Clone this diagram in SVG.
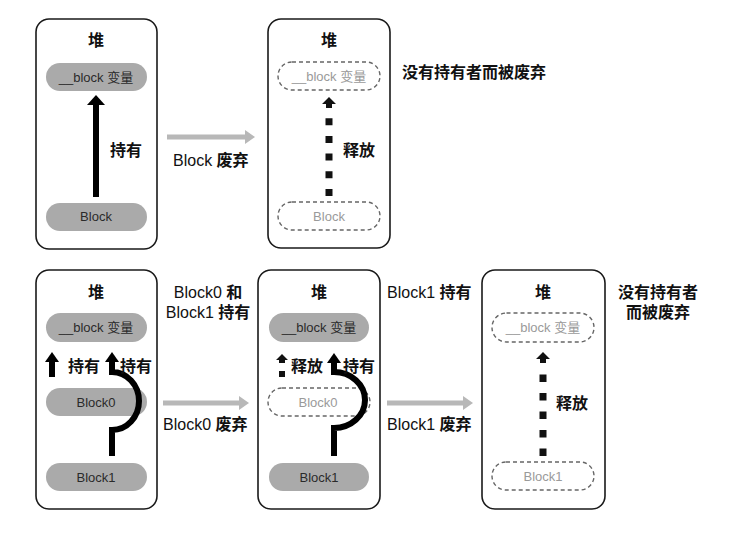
<svg xmlns="http://www.w3.org/2000/svg" width="742" height="538" viewBox="0 0 742 538">
<style>
text{font-family:"Liberation Sans","Noto Sans CJK SC",sans-serif;fill:#111;}
.lbl{font-size:16px;font-weight:bold;}
.lbln{font-size:16px;}
.cj{font-weight:bold;}
.ttl{font-size:16px;font-weight:bold;text-anchor:middle;}
.box{fill:#fff;stroke:#1a1a1a;stroke-width:1.6;}
.pill{fill:#aaaaaa;stroke:none;}
.pt{font-size:13px;fill:#2a2a2a;text-anchor:middle;}
.dpill{fill:#fff;stroke:#666;stroke-width:1.4;stroke-dasharray:4 3;}
.dpt{font-size:13px;fill:#9a9a9a;text-anchor:middle;}
.solid{fill:none;stroke:#000;stroke-width:6;}
.dot{fill:none;stroke:#111;stroke-width:7;}
.gray{fill:none;stroke:#b8b8b8;stroke-width:5;}
</style>
<defs>
<marker id="hbig" markerUnits="userSpaceOnUse" markerWidth="10" markerHeight="18" refX="2" refY="9" orient="auto" viewBox="0 0 10 18"><path d="M0,0 L10,9 L0,18 Z" fill="#000"/></marker>
<marker id="hsm" markerUnits="userSpaceOnUse" markerWidth="10" markerHeight="14" refX="2" refY="7" orient="auto" viewBox="0 0 10 14"><path d="M0,0 L10,7 L0,14 Z" fill="#000"/></marker>
<marker id="hgray" markerUnits="userSpaceOnUse" markerWidth="10" markerHeight="14" refX="1" refY="7" orient="auto" viewBox="0 0 10 14"><path d="M0,0 L10,7 L0,14 Z" fill="#b8b8b8"/></marker>
</defs>

<!-- Panel 1 -->
<g id="panel1">
<rect class="box" x="36" y="19" width="121" height="230" rx="13"/>
<text class="ttl" x="96" y="46">堆</text>
</g>
<g id="p1-var"><rect class="pill" x="46" y="63" width="101" height="28" rx="14"/><text class="pt" x="96" y="82">__block 变量</text></g>
<g id="p1-block"><rect class="pill" x="46" y="203" width="101" height="28" rx="14"/><text class="pt" x="96" y="221">Block</text></g>

<!-- Panel 2 -->
<g id="panel2">
<rect class="box" x="268" y="19" width="122" height="229" rx="13"/>
<text class="ttl" x="329" y="46">堆</text>
</g>
<g id="p2-var"><rect class="dpill" x="278" y="62" width="102" height="28" rx="14"/><text class="dpt" x="329" y="81">__block 变量</text></g>
<g id="p2-block"><rect class="dpill" x="278" y="202" width="102" height="28" rx="14"/><text class="dpt" x="329" y="221">Block</text></g>

<!-- Panel 3 -->
<g id="panel3">
<rect class="box" x="36" y="270" width="121" height="239" rx="13"/>
<text class="ttl" x="96" y="298">堆</text>
</g>
<g id="p3-var"><rect class="pill" x="46" y="313" width="101" height="29" rx="14.5"/><text class="pt" x="96" y="332">__block 变量</text></g>
<g id="p3-block0"><rect class="pill" x="46" y="388" width="101" height="28" rx="14"/><text class="pt" x="96" y="407">Block0</text></g>
<g id="p3-block1"><rect class="pill" x="46" y="463" width="101" height="28" rx="14"/><text class="pt" x="96" y="482">Block1</text></g>

<!-- Panel 4 -->
<g id="panel4">
<rect class="box" x="258" y="270" width="122" height="239" rx="13"/>
<text class="ttl" x="319" y="298">堆</text>
</g>
<g id="p4-var"><rect class="pill" x="269" y="313" width="100" height="29" rx="14.5"/><text class="pt" x="319" y="332">__block 变量</text></g>
<g id="p4-block0"><rect class="dpill" x="268" y="388" width="102" height="28" rx="14"/><text class="dpt" x="318" y="407">Block0</text></g>
<g id="p4-block1"><rect class="pill" x="269" y="463" width="100" height="28" rx="14"/><text class="pt" x="319" y="482">Block1</text></g>

<!-- Panel 5 -->
<g id="panel5">
<rect class="box" x="482" y="270" width="123" height="239" rx="13"/>
<text class="ttl" x="543" y="298">堆</text>
</g>
<g id="p5-var"><rect class="dpill" x="492" y="313" width="102" height="29" rx="14.5"/><text class="dpt" x="543" y="332">__block 变量</text></g>
<g id="p5-block1"><rect class="dpill" x="492" y="462" width="102" height="28" rx="14"/><text class="dpt" x="543" y="481">Block1</text></g>

<!-- Connectors -->
<g id="connectors">
<!-- panel 1 -->
<path class="solid" d="M96,197 V103" marker-end="url(#hbig)"/>
<!-- panel 2 dotted -->
<path class="dot" d="M329,196 V116" stroke-dasharray="7 10.7"/>
<path d="M329,97 L336,104 L332,104 L332,108 L326,108 L326,104 L322,104 Z" fill="#111"/>
<!-- panel 3 -->
<path class="solid" d="M52,377 V360" marker-end="url(#hsm)"/>
<path class="solid" d="M112,456 V430 A27,29 0 0 0 112,372 V360" marker-end="url(#hsm)"/>
<!-- panel 4 -->
<path d="M282,354 L288,360 L285,360 L285,363 L279,363 L279,360 L276,360 Z" fill="#111"/>
<rect x="279" y="371" width="6" height="6" fill="#111"/>
<path class="solid" d="M334,456 V428 A31,28 0 0 0 334,372 V361" marker-end="url(#hsm)"/>
<!-- panel 5 dotted -->
<path class="dot" d="M543,456 V372" stroke-dasharray="7.5 11"/>
<path d="M543,352 L550,359 L546,359 L546,363 L540,363 L540,359 L536,359 Z" fill="#111"/>
<!-- transitions -->
<path class="gray" d="M167,137 H246" marker-end="url(#hgray)"/>
<path class="gray" d="M163,403 H240" marker-end="url(#hgray)"/>
<path class="gray" d="M387,403 H464" marker-end="url(#hgray)"/>
</g>

<!-- Labels -->
<g id="labels">
<text class="lbl" x="110" y="156">持有</text>
<text class="lbln" x="173" y="166">Block <tspan class="cj">废弃</tspan></text>
<text class="lbl" x="343" y="156">释放</text>
<text class="lbl" x="402" y="78">没有持有者而被废弃</text>
<text class="lbl" x="68" y="372">持有</text>
<text class="lbl" x="120" y="372">持有</text>
<text class="lbln" x="208" y="298" text-anchor="middle">Block0 <tspan class="cj">和</tspan></text>
<text class="lbln" x="208" y="318" text-anchor="middle">Block1 <tspan class="cj">持有</tspan></text>
<text class="lbln" x="163" y="430">Block0 <tspan class="cj">废弃</tspan></text>
<text class="lbl" x="291" y="372">释放</text>
<text class="lbl" x="343" y="372">持有</text>
<text class="lbln" x="387" y="298">Block1 <tspan class="cj">持有</tspan></text>
<text class="lbln" x="387" y="430">Block1 <tspan class="cj">废弃</tspan></text>
<text class="lbl" x="556" y="409">释放</text>
<text class="lbl" x="658" y="298" text-anchor="middle">没有持有者</text>
<text class="lbl" x="658" y="318" text-anchor="middle">而被废弃</text>
</g>
</svg>
